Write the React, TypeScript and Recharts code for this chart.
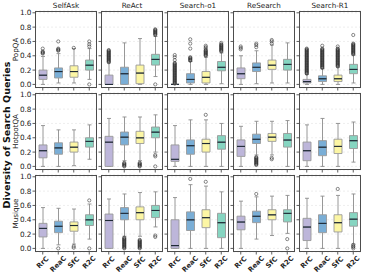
import React from 'react';
import { ComposedChart, Bar, Scatter, XAxis, YAxis, CartesianGrid } from 'recharts';

const categories = ['RrC', 'ReaC', 'SfC', 'R2C'];
const methods = ['SelfAsk', 'ReAct', 'Search-o1', 'ReSearch', 'Search-R1'];
const datasets = ['PopQA', 'HotpotQA', 'Musique'];
const yTicks = [0, 0.2, 0.4, 0.6, 0.8, 1.0];
const boxColors = ['#bdb6da', '#7aaed6', '#fcf6a4', '#86d5c1'];

// box stats per category: [whiskerLow, q1, median, q3, whiskerHigh]
const popqaSelfAsk = [[0, 0.07, 0.13, 0.2, 0.39], [0.02, 0.09, 0.18, 0.23, 0.43], [0.02, 0.1, 0.18, 0.26, 0.5], [0.07, 0.2, 0.27, 0.34, 0.5]];
const popqaReAct = [[0, 0, 0, 0.13, 0.3], [0, 0, 0.15, 0.24, 0.58], [0, 0.01, 0.16, 0.27, 0.64], [0.11, 0.27, 0.35, 0.42, 0.67]];
const popqaSearchO1 = [[0, 0, 0, 0, 0], [0, 0.02, 0.07, 0.15, 0.32], [0, 0.02, 0.1, 0.18, 0.38], [0.01, 0.19, 0.24, 0.32, 0.44]];
const popqaReSearch = [[0, 0.08, 0.15, 0.23, 0.4], [0.01, 0.18, 0.24, 0.3, 0.47], [0.02, 0.21, 0.27, 0.34, 0.55], [0.02, 0.2, 0.28, 0.35, 0.58]];
const popqaSearchR1 = [[0, 0.02, 0.04, 0.07, 0.14], [0, 0.04, 0.08, 0.12, 0.22], [0, 0.04, 0.08, 0.13, 0.24], [0.02, 0.15, 0.21, 0.28, 0.41]];

const hotpotSelfAsk = [[0, 0.12, 0.22, 0.3, 0.57], [0, 0.17, 0.26, 0.33, 0.51], [0.01, 0.2, 0.27, 0.34, 0.51], [0.1, 0.27, 0.35, 0.4, 0.58]];
const hotpotReAct = [[0, 0, 0.34, 0.42, 0.67], [0.08, 0.3, 0.41, 0.48, 0.69], [0.08, 0.32, 0.4, 0.49, 0.69], [0.2, 0.4, 0.48, 0.55, 0.72]];
const hotpotSearchO1 = [[0, 0.07, 0.1, 0.3, 0.57], [0, 0.17, 0.29, 0.37, 0.65], [0, 0.2, 0.32, 0.38, 0.65], [0, 0.24, 0.34, 0.43, 0.6]];
const hotpotReSearch = [[0, 0.14, 0.28, 0.37, 0.56], [0.16, 0.32, 0.38, 0.45, 0.63], [0.16, 0.35, 0.41, 0.46, 0.63], [0, 0.27, 0.37, 0.46, 0.64]];
const hotpotSearchR1 = [[0, 0.08, 0.22, 0.34, 0.58], [0, 0.15, 0.27, 0.36, 0.67], [0, 0.18, 0.28, 0.38, 0.6], [0.06, 0.25, 0.36, 0.43, 0.62]];

const musiqueSelfAsk = [[0, 0.16, 0.28, 0.35, 0.57], [0.05, 0.22, 0.31, 0.38, 0.56], [0.06, 0.24, 0.32, 0.37, 0.55], [0.13, 0.32, 0.4, 0.47, 0.62]];
const musiqueReAct = [[0, 0, 0.39, 0.48, 0.69], [0.17, 0.4, 0.49, 0.57, 0.76], [0.17, 0.4, 0.5, 0.58, 0.78], [0.3, 0.43, 0.53, 0.6, 0.79]];
const musiqueSearchO1 = [[0, 0, 0.04, 0.4, 0.71], [0, 0.25, 0.4, 0.51, 0.89], [0, 0.29, 0.43, 0.54, 0.87], [0, 0.15, 0.36, 0.49, 0.79]];
const musiqueReSearch = [[0, 0.26, 0.37, 0.45, 0.66], [0.13, 0.36, 0.45, 0.52, 0.72], [0.18, 0.4, 0.47, 0.54, 0.73], [0.21, 0.37, 0.49, 0.54, 0.74]];
const musiqueSearchR1 = [[0, 0.11, 0.3, 0.42, 0.7], [0, 0.22, 0.35, 0.47, 0.73], [0, 0.23, 0.36, 0.47, 0.74], [0.06, 0.31, 0.41, 0.5, 0.76]];

// outliers per category
const popqaSelfAskOut = [[0.43, 0.44, 0.45, 0.46, 0.5], [0.47, 0.48, 0.49, 0.5, 0.6], [0.51], [0.0, 0.53, 0.56, 0.6]];
const popqaReActOut = [
  [0.31, 0.32, 0.33, 0.34, 0.35, 0.36, 0.37, 0.38, 0.39, 0.40, 0.41, 0.42, 0.43, 0.44, 0.45, 0.46, 0.47, 0.48],
  [], [],
  [0.0, 0.69, 0.70, 0.71, 0.72, 0.73, 0.74, 0.75, 0.76, 0.77],
];
const popqaSearchO1Out = [
  [0.01, 0.02, 0.03, 0.04, 0.05, 0.06, 0.07, 0.08, 0.09, 0.10, 0.11, 0.12, 0.13, 0.14, 0.15, 0.16, 0.17, 0.18, 0.19, 0.20, 0.21, 0.22, 0.23, 0.24, 0.25, 0.26, 0.27, 0.28, 0.29, 0.30, 0.34, 0.38, 0.41],
  [0.33, 0.34, 0.35, 0.36, 0.37, 0.38, 0.5, 0.57, 0.63],
  [0.40, 0.41, 0.42, 0.43, 0.44, 0.45, 0.46, 0.47, 0.48, 0.50, 0.52, 0.54],
  [0.46, 0.47, 0.48, 0.49, 0.50, 0.51, 0.52, 0.53, 0.54, 0.55, 0.56, 0.58],
];
const popqaReSearchOut = [[0.49, 0.51, 0.53], [0.52, 0.55, 0.57], [0.57, 0.6, 0.62], []];
const popqaSearchR1Out = [
  [0.15, 0.16, 0.17, 0.18, 0.19, 0.20, 0.21, 0.22, 0.23, 0.24, 0.25, 0.26, 0.27, 0.28, 0.29, 0.30, 0.31, 0.32, 0.33, 0.34, 0.35, 0.36, 0.37, 0.38, 0.39, 0.40, 0.41, 0.42, 0.43, 0.44, 0.45, 0.46, 0.47, 0.48, 0.49, 0.50],
  [0.23, 0.24, 0.25, 0.26, 0.27, 0.28, 0.29, 0.30, 0.31, 0.32, 0.33, 0.34, 0.35, 0.36, 0.37, 0.38, 0.39, 0.40, 0.41, 0.42, 0.43, 0.44, 0.45, 0.46, 0.47, 0.48, 0.49, 0.50, 0.54],
  [0.25, 0.26, 0.27, 0.28, 0.29, 0.30, 0.31, 0.32, 0.33, 0.34, 0.35, 0.36, 0.37, 0.38, 0.39, 0.40, 0.41, 0.42, 0.43, 0.44, 0.45, 0.46, 0.47, 0.48, 0.49, 0.50, 0.53],
  [0.42, 0.43, 0.44, 0.45, 0.46, 0.47, 0.48, 0.49, 0.50, 0.51, 0.52, 0.53, 0.54, 0.55, 0.56, 0.57, 0.69],
];

const hotpotSelfAskOut = [[], [], [], []];
const hotpotReActOut = [[], [0.0, 0.01, 0.02, 0.03, 0.04, 0.05], [0.0, 0.01, 0.02, 0.03, 0.04, 0.05], [0.0, 0.14, 0.16]];
const hotpotSearchO1Out = [[], [], [0.72], []];
const hotpotReSearchOut = [[], [0.02, 0.03, 0.04, 0.05, 0.06, 0.07, 0.08, 0.09, 0.10, 0.11, 0.12, 0.13], [0.1, 0.12], []];
const hotpotSearchR1Out = [[], [], [], []];

const musiqueSelfAskOut = [[], [0.0], [0.01, 0.03], [0.0, 0.67]];
const musiqueReActOut = [
  [],
  [0.0, 0.01, 0.02, 0.03, 0.04, 0.05, 0.06, 0.07, 0.08, 0.09, 0.10, 0.11, 0.12, 0.13, 0.14, 0.15],
  [0.0, 0.01, 0.02, 0.03, 0.04, 0.05, 0.06, 0.07, 0.08, 0.09, 0.10, 0.11, 0.12],
  [0.16, 0.18],
];
const musiqueSearchO1Out = [[], [0.97], [0.93], []];
const musiqueReSearchOut = [[], [0.76], [], [0.0, 0.13]];
const musiqueSearchR1Out = [[], [], [0.83], [0.0, 0.02, 0.03, 0.05]];

const STATS = [
  [popqaSelfAsk, popqaReAct, popqaSearchO1, popqaReSearch, popqaSearchR1],
  [hotpotSelfAsk, hotpotReAct, hotpotSearchO1, hotpotReSearch, hotpotSearchR1],
  [musiqueSelfAsk, musiqueReAct, musiqueSearchO1, musiqueReSearch, musiqueSearchR1],
];
const OUTS = [
  [popqaSelfAskOut, popqaReActOut, popqaSearchO1Out, popqaReSearchOut, popqaSearchR1Out],
  [hotpotSelfAskOut, hotpotReActOut, hotpotSearchO1Out, hotpotReSearchOut, hotpotSearchR1Out],
  [musiqueSelfAskOut, musiqueReActOut, musiqueSearchO1Out, musiqueReSearchOut, musiqueSearchR1Out],
];

const FONT = 'DejaVu Sans';
const PANEL_W = 62;
const PANEL_H = 77;
const Y_W = 30;
const X_H = 22;
const TOP_PAD = 6;
const BAR_W = 8;
const panelLeft = (c: number) => 35 + c * 66;
const panelTop = (r: number) => 11 + r * 82;

const WHISKER = '#8c8c8c';
const EDGE = '#9a9a9a';
const MEDIAN = '#1f2a36';

const span = (p: any) => {
  const top = Math.min(p.y, p.y + p.height);
  const bot = Math.max(p.y, p.y + p.height);
  return { top, bot, cx: p.x + p.width / 2 };
};
const colorOf = (p: any) => boxColors[(p.payload && p.payload.i != null ? p.payload.i : p.index) % 4];

const emptyShape = () => <g />;
const lowerWhisker = (p: any) => {
  const { top, bot, cx } = span(p);
  return (
    <g>
      <line x1={cx} x2={cx} y1={top} y2={bot} stroke={WHISKER} strokeWidth={0.9} />
      <line x1={cx - 2} x2={cx + 2} y1={bot} y2={bot} stroke={WHISKER} strokeWidth={0.9} />
    </g>
  );
};
const upperWhisker = (p: any) => {
  const { top, bot, cx } = span(p);
  return (
    <g>
      <line x1={cx} x2={cx} y1={top} y2={bot} stroke={WHISKER} strokeWidth={0.9} />
      <line x1={cx - 2} x2={cx + 2} y1={top} y2={top} stroke={WHISKER} strokeWidth={0.9} />
    </g>
  );
};
const lowerBox = (p: any) => {
  const { top, bot } = span(p);
  const x0 = p.x, x1 = p.x + p.width;
  return (
    <g>
      <rect x={x0} y={top} width={p.width} height={bot - top} fill={colorOf(p)} stroke="none" />
      <path d={`M${x0},${top}L${x0},${bot}L${x1},${bot}L${x1},${top}`} fill="none" stroke={EDGE} strokeWidth={0.9} />
      <line x1={x0} x2={x1} y1={top} y2={top} stroke={MEDIAN} strokeWidth={1.1} />
    </g>
  );
};
const upperBox = (p: any) => {
  const { top, bot } = span(p);
  const x0 = p.x, x1 = p.x + p.width;
  return (
    <g>
      <rect x={x0} y={top} width={p.width} height={bot - top} fill={colorOf(p)} stroke="none" />
      <path d={`M${x0},${bot}L${x0},${top}L${x1},${top}L${x1},${bot}`} fill="none" stroke={EDGE} strokeWidth={0.9} />
      <line x1={x0} x2={x1} y1={bot} y2={bot} stroke={MEDIAN} strokeWidth={1.1} />
    </g>
  );
};
const outlierShape = (p: any) => (
  <circle cx={p.cx} cy={p.cy} r={1.6} fill="none" stroke="#2a2a2a" strokeWidth={0.55} />
);

const emptyTick = () => <g />;
const renderXTick = (p: any) => {
  const { x, y, payload } = p;
  const label = String(payload.value);
  const fs = 6.8;
  const L = label.length * fs * 0.72;
  const d = (L + fs * 0.75) / (2 * Math.SQRT2);
  const cy = y + d;
  return (
    <text
      x={x}
      y={cy}
      transform={`rotate(-45 ${x} ${cy})`}
      textAnchor="middle"
      dominantBaseline="central"
      fontSize={fs}
      fontWeight="bold"
      fill="#222"
      fontFamily={FONT}
    >
      {label}
    </text>
  );
};

function Panel({ r, c }: { r: number; c: number }) {
  const stats = STATS[r][c];
  const outs = OUTS[r][c];
  const rows = categories.map((cat, i) => {
    const [lo, q1, med, q3, hi] = stats[i];
    return { cat, i, base: lo, w1: q1 - lo, b1: med - q1, b2: q3 - med, w2: hi - q3 };
  });
  const pts = outs.flatMap((vals, i) => vals.map((v) => ({ x: i, y: v })));
  const isBottom = r === 2;
  const isLeft = c === 0;
  return (
    <div style={{ position: 'absolute', left: panelLeft(c) - Y_W, top: panelTop(r) - TOP_PAD }}>
      <ComposedChart
        width={Y_W + PANEL_W}
        height={TOP_PAD + PANEL_H + X_H}
        data={rows}
        margin={{ top: TOP_PAD, right: 0, bottom: 0, left: 0 }}
      >
        <CartesianGrid vertical={false} stroke="#e2e2e2" strokeDasharray="2 2" strokeWidth={0.6} />
        <XAxis
          dataKey="cat"
          type="category"
          height={X_H}
          interval={0}
          axisLine={false}
          tickSize={2.5}
          tickMargin={1}
          tickLine={{ stroke: '#333', strokeWidth: 0.8 }}
          tick={isBottom ? renderXTick : emptyTick}
        />
        <XAxis xAxisId="n" type="number" dataKey="x" domain={[-0.5, 3.5]} hide />
        <YAxis
          width={Y_W}
          type="number"
          domain={[-0.05, 1.025]}
          ticks={yTicks}
          allowDataOverflow
          interval={0}
          axisLine={false}
          tickSize={2.5}
          tickMargin={1}
          tickLine={{ stroke: '#333', strokeWidth: 0.8 }}
          tick={isLeft ? { fontSize: 7.3, fill: '#222', fontFamily: FONT } : emptyTick}
          tickFormatter={(v: number) => v.toFixed(1)}
        />
        <Bar dataKey="base" stackId="b" barSize={BAR_W} isAnimationActive={false} shape={emptyShape} />
        <Bar dataKey="w1" stackId="b" barSize={BAR_W} isAnimationActive={false} shape={lowerWhisker} />
        <Bar dataKey="b1" stackId="b" barSize={BAR_W} isAnimationActive={false} shape={lowerBox} />
        <Bar dataKey="b2" stackId="b" barSize={BAR_W} isAnimationActive={false} shape={upperBox} />
        <Bar dataKey="w2" stackId="b" barSize={BAR_W} isAnimationActive={false} shape={upperWhisker} />
        <Scatter data={pts} xAxisId="n" dataKey="y" isAnimationActive={false} shape={outlierShape} />
      </ComposedChart>
    </div>
  );
}

export default function App() {
  return (
    <div style={{ position: 'absolute', left: 0, top: 0, width: 365, height: 275, background: '#fff', overflow: 'hidden' }}>
      {datasets.map((_, r) => methods.map((__, c) => <Panel key={`${r}-${c}`} r={r} c={c} />))}
      <svg width={365} height={275} style={{ position: 'absolute', left: 0, top: 0, pointerEvents: 'none' }}>
        {datasets.map((_, r) =>
          methods.map((__, c) => (
            <rect
              key={`f${r}-${c}`}
              x={panelLeft(c) + 0.5}
              y={panelTop(r) + 0.5}
              width={PANEL_W - 1}
              height={PANEL_H - 1}
              fill="none"
              stroke="#4d4d4d"
              strokeWidth={1}
            />
          ))
        )}
        {methods.map((m, c) => (
          <text key={m} x={panelLeft(c) + PANEL_W / 2} y={8.3} textAnchor="middle" fontSize={7.2} fill="#222" fontFamily={FONT}>
            {m}
          </text>
        ))}
        {datasets.map((d, r) => {
          const cy = panelTop(r) + PANEL_H / 2;
          return (
            <text
              key={d}
              x={15.8}
              y={cy}
              transform={`rotate(-90 15.8 ${cy})`}
              textAnchor="middle"
              dominantBaseline="central"
              fontSize={7.2}
              fill="#222"
              fontFamily={FONT}
            >
              {d}
            </text>
          );
        })}
        <text
          x={6.3}
          y={135}
          transform="rotate(-90 6.3 135)"
          textAnchor="middle"
          dominantBaseline="central"
          fontSize={9.5}
          fontWeight="bold"
          fill="#111"
          fontFamily={FONT}
        >
          Diversity of Search Queries
        </text>
      </svg>
    </div>
  );
}
